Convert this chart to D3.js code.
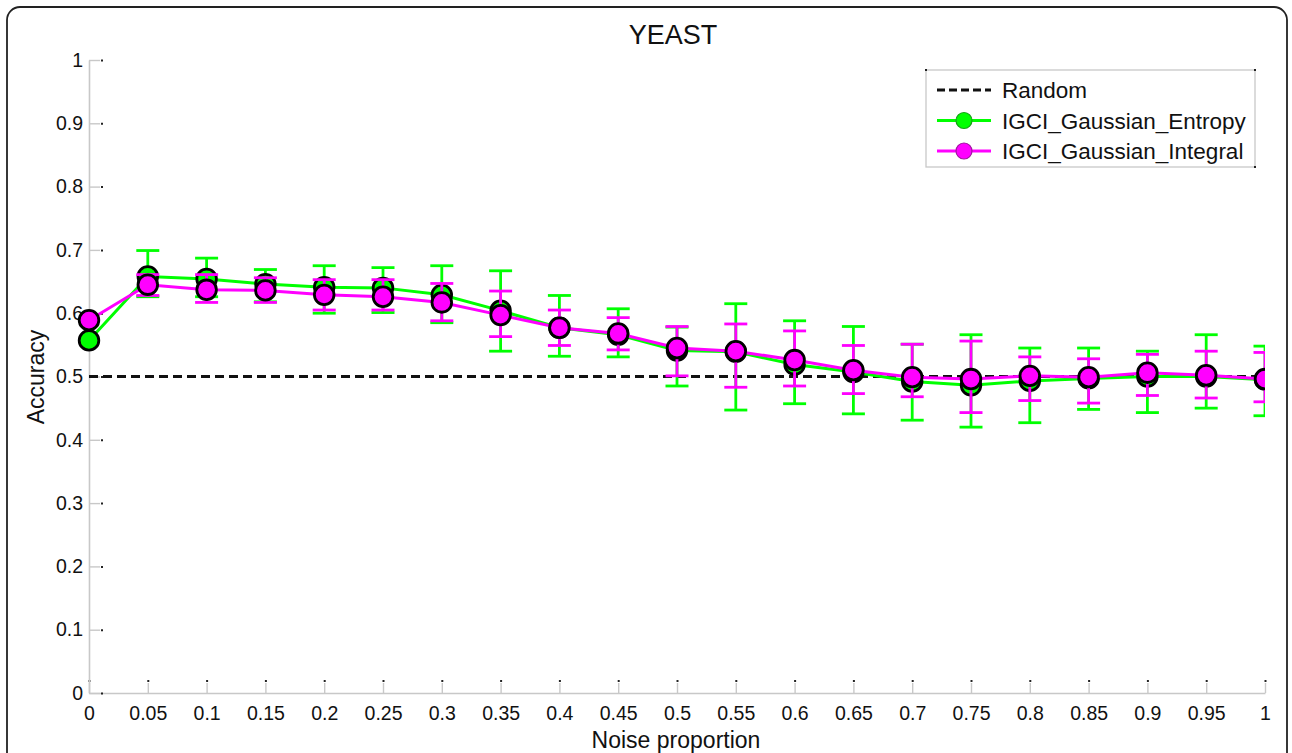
<!DOCTYPE html>
<html><head><meta charset="utf-8">
<script src="https://cdn.jsdelivr.net/npm/d3@7"></script>
<style>body{margin:0;background:#fff}svg{display:block}text{font-family:"Liberation Sans",Arial,sans-serif;fill:#111}</style>
</head><body>
<script>
const noise = [0,0.05,0.1,0.15,0.2,0.25,0.3,0.35,0.4,0.45,0.5,0.55,0.6,0.65,0.7,0.75,0.8,0.85,0.9,0.95,1];
const entropyMean = [0.557,0.658,0.654,0.646,0.641,0.640,0.629,0.604,0.577,0.566,0.541,0.539,0.519,0.507,0.492,0.486,0.493,0.497,0.500,0.500,0.495];
const entropyHigh = [0.557,0.699,0.687,0.669,0.675,0.672,0.675,0.667,0.628,0.607,0.578,0.615,0.588,0.579,0.551,0.566,0.545,0.545,0.540,0.566,0.548];
const entropyLow  = [0.557,0.626,0.626,0.618,0.600,0.601,0.585,0.540,0.532,0.531,0.485,0.447,0.457,0.441,0.431,0.420,0.427,0.448,0.443,0.450,0.438];
const integralMean = [0.589,0.645,0.637,0.636,0.629,0.626,0.617,0.597,0.577,0.568,0.545,0.540,0.526,0.510,0.499,0.496,0.501,0.499,0.506,0.502,0.496];
const integralHigh = [0.589,0.661,0.661,0.656,0.653,0.653,0.647,0.635,0.605,0.593,0.579,0.583,0.572,0.549,0.551,0.556,0.531,0.528,0.535,0.540,0.538];
const integralLow  = [0.589,0.628,0.617,0.617,0.605,0.605,0.588,0.563,0.549,0.542,0.501,0.483,0.485,0.473,0.468,0.443,0.462,0.458,0.470,0.466,0.460];
const randomLevel = 0.5;
const yTicks = [0,0.1,0.2,0.3,0.4,0.5,0.6,0.7,0.8,0.9,1];
const xTickLabels = ["0","0.05","0.1","0.15","0.2","0.25","0.3","0.35","0.4","0.45","0.5","0.55","0.6","0.65","0.7","0.75","0.8","0.85","0.9","0.95","1"];
const seriesNames = ["Random","IGCI_Gaussian_Entropy","IGCI_Gaussian_Integral"];

const W = 1292, H = 753;
const FONT = "'Liberation Sans',Arial,sans-serif";
const svg = d3.select("body").append("svg").attr("width", W).attr("height", H);
// figure frame
svg.append("rect").attr("x",7).attr("y",7).attr("width",1280).attr("height",780)
  .attr("rx",13).attr("fill","none").attr("stroke","#222").attr("stroke-width",1.8);

const x = d3.scaleLinear().domain([0,1]).range([89,1265]);
const y = d3.scaleLinear().domain([0,1]).range([693,60]);

// axes (MATLAB-like light grey with small dark tick dots)
const gx = svg.append("g").attr("transform",`translate(0,${y(0)})`)
  .call(d3.axisBottom(x).tickValues(noise).tickFormat((d,i)=>xTickLabels[i]).tickSizeInner(-10).tickSizeOuter(0).tickPadding(13));
gx.select(".domain").attr("stroke","#c8c8c8").attr("stroke-width",1.6);
gx.selectAll(".tick line").attr("stroke","#c8c8c8").attr("stroke-width",1.4);
gx.selectAll(".tick").append("line").attr("x1",0).attr("x2",0).attr("y1",-13).attr("y2",-11).attr("stroke","#222").attr("stroke-width",2);
gx.selectAll(".tick text").attr("font-size",19.5).attr("fill","#111").attr("font-family",FONT);

const gy = svg.append("g").attr("transform",`translate(${x(0)},0)`)
  .call(d3.axisLeft(y).tickValues(yTicks).tickFormat(d3.format("~g")).tickSizeInner(-11).tickSizeOuter(0).tickPadding(6));
gy.select(".domain").attr("stroke","#c8c8c8").attr("stroke-width",1.6);
gy.selectAll(".tick line").attr("stroke","#c8c8c8").attr("stroke-width",1.4);
gy.selectAll(".tick").append("line").attr("x1",12).attr("x2",14).attr("y1",0).attr("y2",0).attr("stroke","#222").attr("stroke-width",2);
gy.selectAll(".tick text").attr("font-size",19.5).attr("fill","#111").attr("font-family",FONT);

// clip
svg.append("clipPath").attr("id","clip").append("rect")
  .attr("x",x(0)-15).attr("y",y(1)).attr("width",x(1)-x(0)+15).attr("height",y(0)-y(1));
const plot = svg.append("g").attr("clip-path","url(#clip)");

// random line
plot.append("line").attr("x1",x(0)).attr("x2",x(1)).attr("y1",y(randomLevel)).attr("y2",y(randomLevel))
  .attr("stroke","#111").attr("stroke-width",3).attr("stroke-dasharray","9,5");

function drawSeries(mean, lo, hi, color){
  const g = plot.append("g");
  const capW = 11.5;
  noise.forEach((n,i)=>{
    if (hi[i]===lo[i]) return;
    const cx = x(n);
    g.append("line").attr("x1",cx).attr("x2",cx).attr("y1",y(lo[i])).attr("y2",y(hi[i])).attr("stroke",color).attr("stroke-width",2.8);
    [lo[i],hi[i]].forEach(v=>g.append("line").attr("x1",cx-capW).attr("x2",cx+capW).attr("y1",y(v)).attr("y2",y(v)).attr("stroke",color).attr("stroke-width",2.8));
  });
  g.append("path").datum(mean).attr("fill","none").attr("stroke",color).attr("stroke-width",3)
    .attr("d", d3.line().x((d,i)=>x(noise[i])).y(d=>y(d)));
  return g;
}
function drawMarkers(mean, color){
  plot.append("g").selectAll("circle").data(mean).join("circle")
    .attr("cx",(d,i)=>x(noise[i])).attr("cy",d=>y(d)).attr("r",9.8)
    .attr("fill",color).attr("stroke","#000").attr("stroke-width",2.8);
}
drawSeries(entropyMean, entropyLow, entropyHigh, "#00ff00");
drawMarkers(entropyMean, "#00ff00");
drawSeries(integralMean, integralLow, integralHigh, "#ff00ff");
drawMarkers(integralMean, "#ff00ff");

// title and labels
svg.append("text").attr("x",673).attr("y",44).attr("text-anchor","middle").attr("font-size",27).text("YEAST");
svg.append("text").attr("x",676).attr("y",748).attr("text-anchor","middle").attr("font-size",23).text("Noise proportion");
svg.append("text").attr("transform","translate(44,377) rotate(-90)").attr("text-anchor","middle").attr("font-size",23).text("Accuracy");

// legend
const lg = svg.append("g");
lg.append("rect").attr("x",926).attr("y",70).attr("width",329).attr("height",97).attr("fill","#fff").attr("stroke","#c8c8c8").attr("stroke-width",1.3);
[[926,70],[1255,70],[1255,167]].forEach(p=>lg.append("rect").attr("x",p[0]-1).attr("y",p[1]-1).attr("width",2).attr("height",2).attr("fill","#222"));
const legRows = [
  {name: seriesNames[0], color:"#111", dash:"8,4", marker:null},
  {name: seriesNames[1], color:"#00ff00", dash:null, marker:"#00ff00", edge:"#18a018"},
  {name: seriesNames[2], color:"#ff00ff", dash:null, marker:"#ff00ff", edge:"#a018a0"}
];
legRows.forEach((r,i)=>{
  const yy = 90 + i*30.5;
  lg.append("line").attr("x1",937).attr("x2",991).attr("y1",yy).attr("y2",yy).attr("stroke",r.color)
    .attr("stroke-width",r.dash?2.8:3).attr("stroke-dasharray",r.dash);
  if (r.marker) lg.append("circle").attr("cx",964).attr("cy",yy).attr("r",8).attr("fill",r.marker).attr("stroke",r.edge).attr("stroke-width",1.2);
  lg.append("text").attr("x",1002).attr("y",yy+8).attr("font-size",22.5).text(r.name);
});
</script>
</body></html>
